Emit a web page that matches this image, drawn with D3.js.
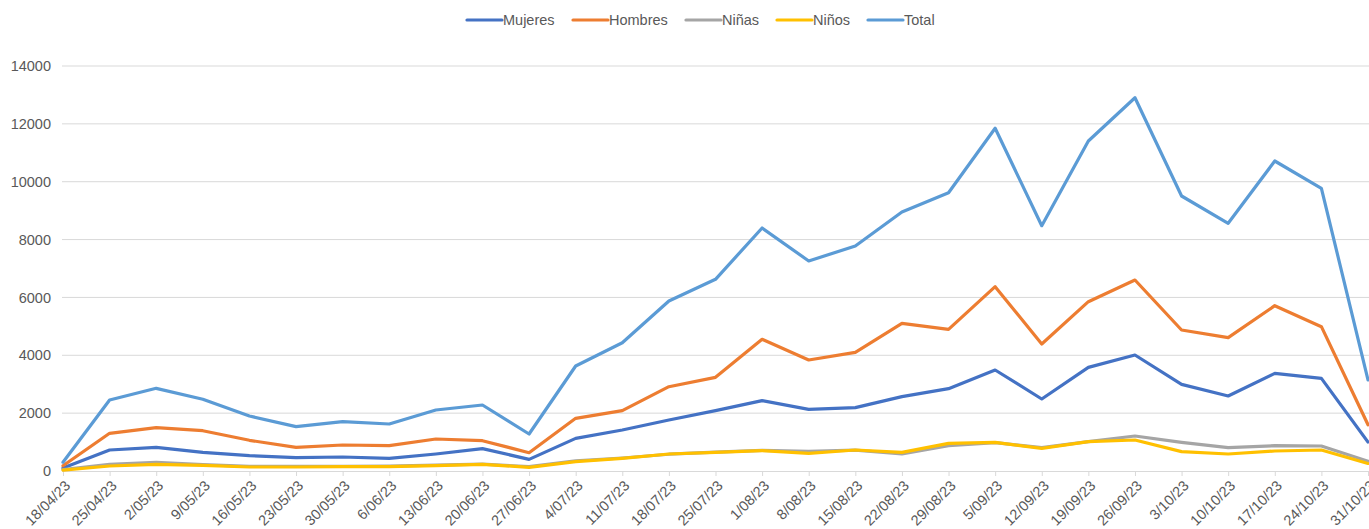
<!DOCTYPE html>
<html><head><meta charset="utf-8">
<script src="https://cdn.jsdelivr.net/npm/d3@7/dist/d3.min.js"></script>
<style>body{margin:0;background:#fff}svg{display:block;font-family:"Liberation Sans",Arial,sans-serif}</style>
</head><body><svg id="c" width="1369" height="529"></svg>
<script>
const categories = ["18/04/23","25/04/23","2/05/23","9/05/23","16/05/23","23/05/23","30/05/23","6/06/23","13/06/23","20/06/23","27/06/23","4/07/23","11/07/23","18/07/23","25/07/23","1/08/23","8/08/23","15/08/23","22/08/23","29/08/23","5/09/23","12/09/23","19/09/23","26/09/23","3/10/23","10/10/23","17/10/23","24/10/23","31/10/23"];
const mujeres = [100,726,819,646,530,461,484,438,588,772,403,1129,1417,1763,2085,2431,2131,2189,2570,2846,3491,2489,3583,4010,2996,2593,3376,3203,1000];
const hombres = [180,1303,1497,1393,1061,819,899,875,1106,1048,633,1821,2085,2914,3238,4552,3837,4102,5105,4897,6372,4390,5853,6602,4874,4609,5715,4989,1600];
const ninas = [50,230,300,220,160,160,165,170,200,240,150,350,450,580,650,715,680,720,588,875,979,806,1013,1210,991,806,875,864,340];
const ninos = [30,173,230,196,138,138,150,150,184,230,128,322,438,588,646,703,611,726,646,957,991,783,1013,1072,668,588,691,726,260];
const total = [300,2454,2858,2478,1901,1532,1705,1625,2108,2281,1279,3630,4435,5876,6626,8400,7260,7777,8953,9620,11846,8480,11407,12904,9506,8562,10716,9772,3150];
const yTicks = [0,2000,4000,6000,8000,10000,12000,14000];
const seriesNames = ["Mujeres","Hombres","Niñas","Niños","Total"];
const seriesColors = ["#4472C4","#ED7D31","#A5A5A5","#FFC000","#5B9BD5"];
const seriesData = [mujeres,hombres,ninas,ninos,total];

const svg = d3.select("#c");
const x = d3.scalePoint().domain(categories).range([63,1368]);
const y = d3.scaleLinear().domain([0,14000]).range([471,66]);
const txt = "#595959", fs = "14.5px";

// gridlines
svg.append("g").selectAll("line").data(yTicks.filter(d=>d>0)).join("line")
  .attr("x1",62).attr("x2",1369).attr("y1",d=>y(d)).attr("y2",d=>y(d))
  .attr("stroke","#D9D9D9").attr("stroke-width",1);

// y axis labels
const yAxis = d3.axisLeft(y).tickValues(yTicks).tickSize(0).tickPadding(0).tickFormat(d3.format("d"));
const gy = svg.append("g").attr("transform","translate(51,0)").call(yAxis);
gy.select(".domain").remove();
gy.selectAll("text").attr("fill",txt).style("font-size",fs).style("font-family","'Liberation Sans',Arial,sans-serif");

// x axis
const xAxis = d3.axisBottom(x).tickSize(5).tickPadding(4);
const gx = svg.append("g").attr("transform","translate(0,471)").call(xAxis);
gx.select(".domain").attr("stroke","#D9D9D9").attr("d","M62,0.5H1369");
gx.selectAll(".tick line").attr("stroke","#D9D9D9");
gx.selectAll("text").attr("fill",txt).style("font-size",fs).style("font-family","'Liberation Sans',Arial,sans-serif")
  .attr("text-anchor","end").attr("dy","0.35em").attr("transform","translate(4,12) rotate(-45)").attr("y",0).attr("x",0);

// lines
const line = d3.line().x((d,i)=>x(categories[i])).y(d=>y(d));
seriesData.forEach((s,k)=>{
  svg.append("path").datum(s).attr("d",line).attr("fill","none")
    .attr("stroke",seriesColors[k]).attr("stroke-width",3.2)
    .attr("stroke-linejoin","round").attr("stroke-linecap","round");
});

// legend
const legendX = [467,573,686,777,868];
const lg = svg.append("g");
seriesNames.forEach((n,k)=>{
  lg.append("line").attr("x1",legendX[k]).attr("x2",legendX[k]+35).attr("y1",20).attr("y2",20)
    .attr("stroke",seriesColors[k]).attr("stroke-width",3.2).attr("stroke-linecap","round");
  lg.append("text").attr("x",legendX[k]+36).attr("y",25).text(n)
    .attr("fill",txt).style("font-size",fs);
});
</script></body></html>
